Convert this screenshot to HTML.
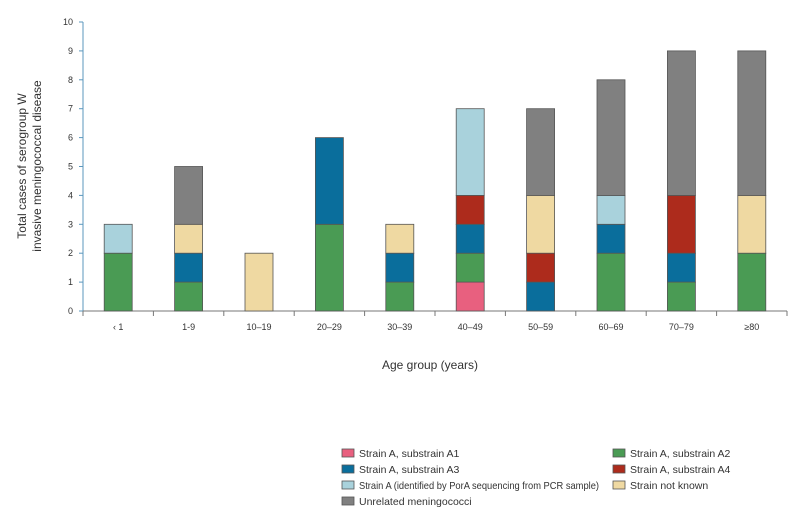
<!DOCTYPE html>
<html><head><meta charset="utf-8"><style>
body{margin:0;background:#fff;font-family:"Liberation Sans",sans-serif;}
svg text{font-family:"Liberation Sans",sans-serif;fill:#333;}
</style></head><body>
<svg id="chart" width="800" height="518"></svg>
<script>
const categories=["‹ 1","1-9","10–19","20–29","30–39","40–49","50–59","60–69","70–79","≥80"];
const seriesNames=["Strain A, substrain A1","Strain A, substrain A2","Strain A, substrain A3","Strain A, substrain A4","Strain A (identified by PorA sequencing from PCR sample)","Strain not known","Unrelated meningococci"];
const a1=[0,0,0,0,0,1,0,0,0,0];
const a2=[2,1,0,3,1,1,0,2,1,2];
const a3=[0,1,0,3,1,1,1,1,1,0];
const a4=[0,0,0,0,0,1,1,0,2,0];
const pora=[1,0,0,0,0,3,0,1,0,0];
const unknown=[0,1,2,0,1,0,2,0,0,2];
const unrelated=[0,2,0,0,0,0,3,4,5,5];
const yTicks=[0,1,2,3,4,5,6,7,8,9,10];
const series=[a1,a2,a3,a4,pora,unknown,unrelated];
const colors=["#e8607f","#4a9b54","#0a6e9c","#ad2b1c","#a9d2dc","#efd9a2","#808080"];
const NS="http://www.w3.org/2000/svg";
const svg=document.getElementById('chart');
const x0=83,y0=311,yTop=22,step=70.4,barW=28;
function yScale(v){return y0-(y0-yTop)*v/10;}
function xCenter(i){return x0+step*(i+0.5);}
function mk(tag,attrs,parent){const e=document.createElementNS(NS,tag);for(const k in attrs)e.setAttribute(k,attrs[k]);(parent||svg).appendChild(e);return e;}
const ya=mk('line',{x1:x0,y1:y0,x2:x0,y2:yTop,stroke:'#5b97bd','stroke-width':1});


const xa=mk('line',{x1:x0,y1:y0,x2:x0+step*10,y2:y0,stroke:'#777','stroke-width':1});


yTicks.forEach(t=>{
  const y=yScale(t);
  mk('line',{x1:x0-4,y1:y,x2:x0,y2:y,stroke:'#5b97bd'});
  const tx=mk('text',{x:x0-10,y:y+3,'font-size':9,'text-anchor':'end'});tx.textContent=t;
  
  
});
for(let i=0;i<=10;i++){mk('line',{x1:x0+step*i,y1:y0,x2:x0+step*i,y2:y0+5,stroke:'#777'});}
categories.forEach((c,i)=>{
  const tx=mk('text',{x:xCenter(i),y:330,'font-size':9,'text-anchor':'middle'});tx.textContent=c;
  
  
  let cum=0;
  series.forEach((s,k)=>{
    const v=s[i];if(!v)return;
    const r=mk('rect',{x:xCenter(i)-barW/2,y:yScale(cum+v),width:barW,height:yScale(cum)-yScale(cum+v),fill:colors[k],stroke:'#555','stroke-width':0.8});
    
    
    cum+=v;
  });
});
const yt=mk('text',{transform:'translate(26,166) rotate(-90)','font-size':12,'text-anchor':'middle'});
yt.innerHTML='<tspan x="0" dy="0">Total cases of serogroup W</tspan><tspan x="0" dy="15">invasive meningococcal disease</tspan>';


const xt=mk('text',{x:430,y:369,'font-size':12,'text-anchor':'middle'});xt.textContent='Age group (years)';


seriesNames.forEach((n,k)=>{
  const col=k%2,row=Math.floor(k/2);
  const lx=col?613:342,ly=453+row*16;
  const g=mk('g',{});
  
  
  mk('rect',{x:lx,y:ly-4,width:12,height:8,fill:colors[k],stroke:'#555','stroke-width':0.8},g);
  const t=mk('text',{x:lx+17,y:ly+4,'font-size':10.5},g);t.textContent=n;
  if(n.length>40){t.setAttribute('textLength',240);t.setAttribute('lengthAdjust','spacingAndGlyphs');}
});
</script>
</body></html>
